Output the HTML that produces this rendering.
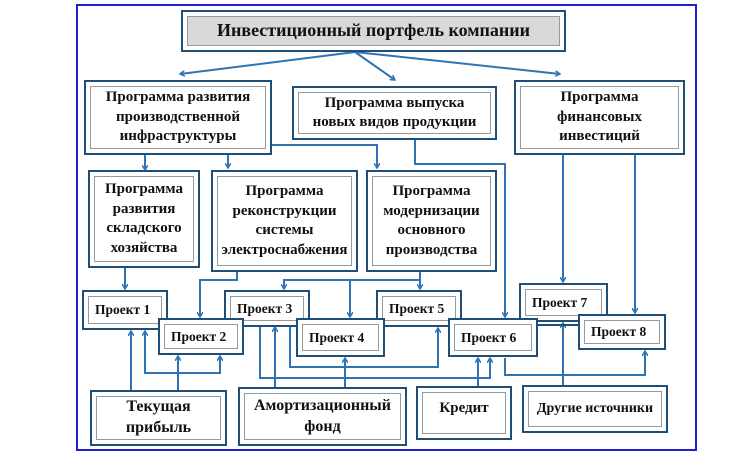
<!DOCTYPE html><html><head><meta charset="utf-8"><style>
body{margin:0;background:#fff;width:750px;height:457px;overflow:hidden;position:relative;font-family:"Liberation Serif",serif;}
.b{position:absolute;box-sizing:border-box;border:2px solid #1f4e79;background:#fff;padding:4px}
.b>div{box-sizing:border-box;width:100%;height:100%;border:1.5px solid #999;display:flex;align-items:center;justify-content:center;text-align:center;font-weight:bold;font-size:15px;line-height:1.3;color:#111}
.p>div{font-size:13.5px;justify-content:flex-start;padding-left:6px}
svg{position:absolute;left:0;top:0}
</style></head><body>
<div style="position:absolute;left:76px;top:4px;width:621px;height:447px;border:2px solid #2020d0;box-sizing:border-box"></div>
<svg width="750" height="457"><defs><marker id="a" markerWidth="6" markerHeight="6" refX="5" refY="3" orient="auto" markerUnits="userSpaceOnUse"><path d="M0,0 L5,3 L0,6" fill="none" stroke="#2e74b5" stroke-width="1.5"/></marker></defs>
<g stroke="#2e74b5" stroke-width="2" fill="none">
<path d="M355 52 L180 74" marker-end="url(#a)"/><path d="M355 52 L395 80" marker-end="url(#a)"/><path d="M355 52 L560 74" marker-end="url(#a)"/>
<path d="M145 155 V170" marker-end="url(#a)"/><path d="M228 155 V168" marker-end="url(#a)"/>
<path d="M272 145 H377 V168" marker-end="url(#a)"/>
<path d="M415 140 V164 H505 V317" marker-end="url(#a)"/>
<path d="M563 155 V282" marker-end="url(#a)"/><path d="M635 155 V313" marker-end="url(#a)"/>
<path d="M125 268 V289" marker-end="url(#a)"/>
<path d="M237 272 V280 H200 V317" marker-end="url(#a)"/>
<path d="M420 272 V280 H284 V289" marker-end="url(#a)"/><path d="M350 280 V317" marker-end="url(#a)"/><path d="M420 280 V289" marker-end="url(#a)"/>
<path d="M131 390 V331" marker-end="url(#a)"/><path d="M178 390 V356" marker-end="url(#a)"/>
<path d="M145 331 V373 H220 V356" marker-end="url(#a)" /><path d="M145 373 V331" marker-end="url(#a)"/>
<path d="M275 387 V327" marker-end="url(#a)"/><path d="M260 327 V378 H490 V358" marker-end="url(#a)"/>
<path d="M290 327 V367 H438 V328" marker-end="url(#a)"/>
<path d="M345 387 V358" marker-end="url(#a)"/>
<path d="M478 386 V358" marker-end="url(#a)"/>
<path d="M505 358 V375 H645 V351" marker-end="url(#a)"/>
<path d="M563 385 V323" marker-end="url(#a)"/>
<path d="M168 325 H610" stroke="#1f4e79"/>
</g></svg>
<div class="b" style="left:181px;top:10px;width:385px;height:42px;background:#fff"><div style="background:#d9d9d9;font-size:18px">Инвестиционный портфель компании</div></div>
<div class="b" style="left:84px;top:80px;width:188px;height:75px"><div>Программа развития производственной инфраструктуры</div></div>
<div class="b" style="left:292px;top:86px;width:205px;height:54px"><div>Программа выпуска<br>новых видов продукции</div></div>
<div class="b" style="left:514px;top:80px;width:171px;height:75px"><div>Программа<br>финансовых<br>инвестиций</div></div>
<div class="b" style="left:88px;top:170px;width:112px;height:98px"><div>Программа развития складского хозяйства</div></div>
<div class="b" style="left:211px;top:170px;width:147px;height:102px"><div>Программа реконструкции системы электроснабжения</div></div>
<div class="b" style="left:366px;top:170px;width:131px;height:102px"><div>Программа модернизации основного производства</div></div>
<div class="b p" style="left:82px;top:290px;width:86px;height:40px"><div>Проект 1</div></div>
<div class="b p" style="left:224px;top:290px;width:86px;height:37px"><div>Проект 3</div></div>
<div class="b p" style="left:376px;top:290px;width:86px;height:37px"><div>Проект 5</div></div>
<div class="b p" style="left:519px;top:283px;width:89px;height:39px"><div>Проект 7</div></div>
<div class="b p" style="left:158px;top:318px;width:86px;height:37px"><div>Проект 2</div></div>
<div class="b p" style="left:296px;top:318px;width:89px;height:39px"><div>Проект 4</div></div>
<div class="b p" style="left:448px;top:318px;width:90px;height:39px"><div>Проект 6</div></div>
<div class="b p" style="left:578px;top:314px;width:88px;height:36px"><div>Проект 8</div></div>
<div class="b" style="left:90px;top:390px;width:137px;height:56px"><div style="font-size:16px">Текущая прибыль</div></div>
<div class="b" style="left:238px;top:387px;width:169px;height:59px"><div style="font-size:16px">Амортизационный фонд</div></div>
<div class="b" style="left:416px;top:386px;width:96px;height:54px"><div style="align-items:flex-start;padding-top:6px">Кредит</div></div>
<div class="b" style="left:522px;top:385px;width:146px;height:48px"><div style="font-size:14px">Другие источники</div></div>
</body></html>
